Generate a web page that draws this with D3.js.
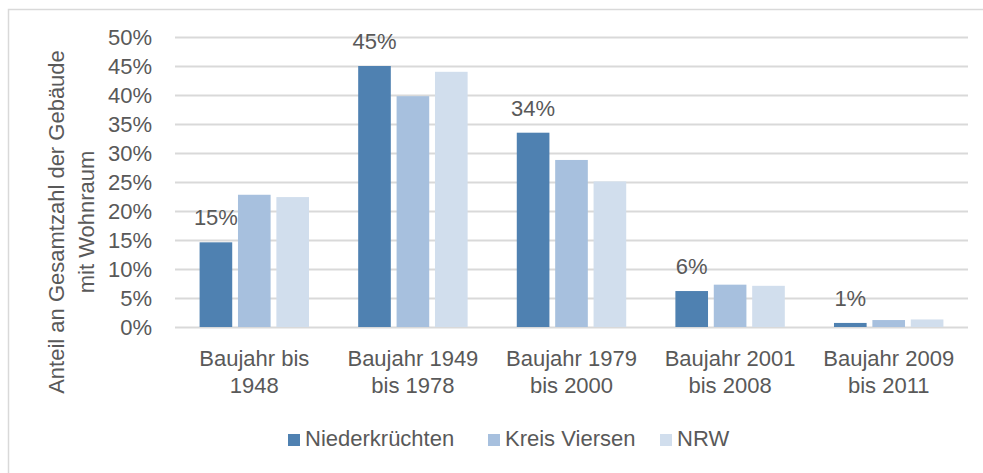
<!DOCTYPE html>
<html lang="de">
<head>
<meta charset="UTF-8">
<title>Gebäude nach Baujahr</title>
<style>
    body { margin: 0; background: #fff; }
    text { font-family: "Liberation Sans", Arial, sans-serif; fill: #595959; font-size: 22px; }
</style>
</head>
<body>
<svg id="chart" width="983" height="473"></svg>
<script src="https://cdn.jsdelivr.net/npm/d3@7/dist/d3.min.js"></script>
<script>
    // data
    var categories = [["Baujahr bis", "1948"], ["Baujahr 1949", "bis 1978"], ["Baujahr 1979", "bis 2000"], ["Baujahr 2001", "bis 2008"], ["Baujahr 2009", "bis 2011"]];
    var seriesNames = ["Niederkrüchten", "Kreis Viersen", "NRW"];
    var niederkruechten = [0.146, 0.450, 0.335, 0.062, 0.007];
    var kreisViersen = [0.228, 0.398, 0.288, 0.073, 0.012];
    var nrw = [0.224, 0.440, 0.251, 0.071, 0.013];
    var barLabels = ["15%", "45%", "34%", "6%", "1%"];
    var yTicks = [0, 0.05, 0.1, 0.15, 0.2, 0.25, 0.3, 0.35, 0.4, 0.45, 0.5];
    var colors = ["#4f81b1", "#a7c0de", "#d1deed"];

    var values = [niederkruechten, kreisViersen, nrw];
    var svg = d3.select("#chart");

    // frame (only top and left edge visible)
    svg.append("rect")
        .attr("x", 8.5).attr("y", 9.5)
        .attr("width", 1000).attr("height", 500)
        .attr("fill", "none")
        .attr("stroke", "#d9d9d9")
        .attr("stroke-width", 1.5);

    var plotLeft = 175, plotRight = 968, plotTop = 37, plotBottom = 327;

    var x = d3.scaleBand()
        .domain(d3.range(categories.length))
        .range([plotLeft, plotRight])
        .paddingInner(0.31)
        .paddingOuter(0.155);

    var xs = d3.scaleBand()
        .domain(d3.range(seriesNames.length))
        .range([0, x.bandwidth()])
        .paddingInner(0.15);

    var y = d3.scaleLinear()
        .domain([0, 0.5])
        .range([plotBottom, plotTop]);

    // grid + tick labels
    var yAxis = svg.append("g")
        .attr("transform", "translate(" + plotLeft + ",0)")
        .call(d3.axisLeft(y).tickValues(yTicks)
            .tickSize(-(plotRight - plotLeft))
            .tickPadding(23)
            .tickFormat(d3.format(".0%")));
    yAxis.select(".domain").remove();
    yAxis.selectAll("line").attr("stroke", "#d9d9d9").attr("stroke-width", 2);
    yAxis.selectAll("text")
        .attr("font-family", null)
        .attr("font-size", null)
        .attr("fill", null);
    yAxis.attr("font-family", null).attr("font-size", null);

    // bars
    var groups = svg.selectAll(".grp")
        .data(categories)
        .enter().append("g")
        .attr("class", "grp")
        .attr("transform", (d, i) => "translate(" + x(i) + ",0)");

    groups.selectAll("rect")
        .data((d, i) => values.map((s, j) => ({ s: j, v: s[i] })))
        .enter().append("rect")
        .attr("x", d => xs(d.s))
        .attr("width", xs.bandwidth())
        .attr("y", d => y(d.v))
        .attr("height", d => y(0) - y(d.v))
        .attr("fill", d => colors[d.s]);

    // data labels on first series
    groups.append("text")
        .attr("x", xs(0) + xs.bandwidth() / 2)
        .attr("y", (d, i) => y(niederkruechten[i]) - 17)
        .attr("text-anchor", "middle")
        .text((d, i) => barLabels[i]);

    // category labels
    groups.append("text")
        .attr("x", x.bandwidth() / 2)
        .attr("y", 366)
        .attr("text-anchor", "middle")
        .selectAll("tspan")
        .data(d => d)
        .enter().append("tspan")
        .attr("x", x.bandwidth() / 2)
        .attr("dy", (d, i) => i === 0 ? 0 : 27)
        .text(d => d);

    // y title
    var title = svg.append("text")
        .attr("transform", "translate(64,222) rotate(-90)")
        .attr("text-anchor", "middle");
    title.append("tspan").attr("x", 0).attr("y", 0).text("Anteil an Gesamtzahl der Gebäude");
    title.append("tspan").attr("x", 0).attr("y", 30).text("mit Wohnraum");

    // legend
    var legendX = [288, 488, 660];
    var legend = svg.selectAll(".leg")
        .data(seriesNames)
        .enter().append("g")
        .attr("class", "leg")
        .attr("transform", (d, i) => "translate(" + legendX[i] + ",434)");
    legend.append("rect")
        .attr("width", 12).attr("height", 12)
        .attr("fill", (d, i) => colors[i]);
    legend.append("text")
        .attr("x", 17)
        .attr("y", 12)
        .text(d => d);
</script>
</body>
</html>
